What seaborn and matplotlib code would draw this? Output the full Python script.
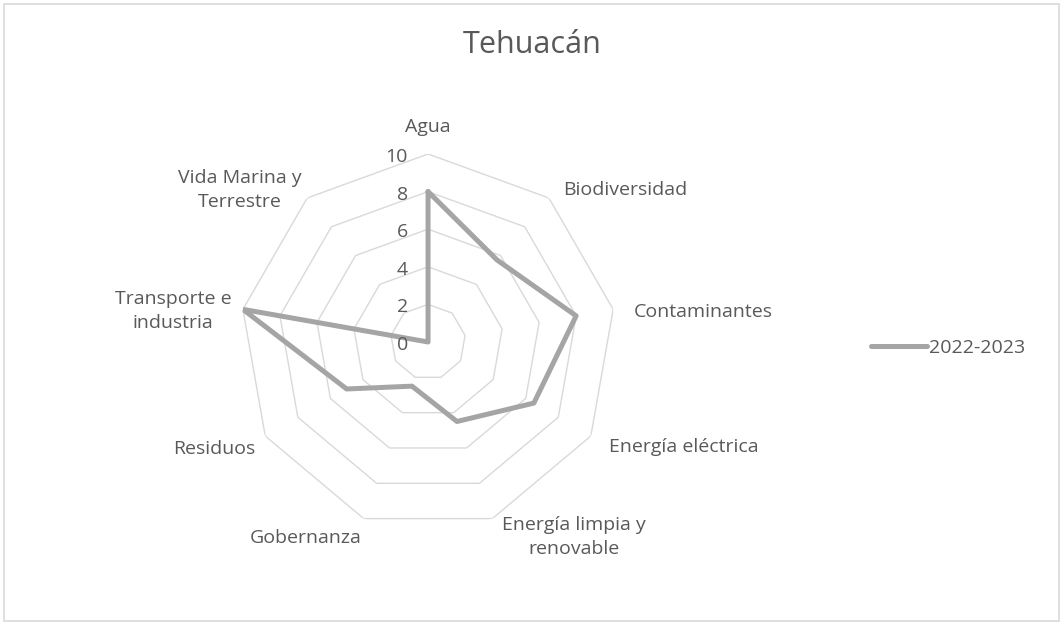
import numpy as np
import pandas as pd
import matplotlib
matplotlib.use("Agg")
import matplotlib.pyplot as plt
import matplotlib.transforms as mtransforms
from matplotlib.patches import Rectangle
from matplotlib.lines import Line2D
import seaborn as sns

# data
categories = [
    "Agua",
    "Biodiversidad",
    "Contaminantes",
    "Energía eléctrica",
    "Energía limpia y\nrenovable",
    "Gobernanza",
    "Residuos",
    "Transporte e\nindustria",
    "Vida Marina y\nTerrestre",
]
values_2022_2023 = [8, 5.7, 8, 6.5, 4.5, 2.5, 5, 10, 0]
ring_levels = [0, 2, 4, 6, 8, 10]
series_name = "2022-2023"
title = "Tehuacán"

# label anchors (angle in degrees clockwise from top, radius, alignment)
label_layout = [
    (0.0, 11.45, "center"),
    (41.6, 10.8, "left"),
    (81.7, 11.05, "left"),
    (120.1, 11.1, "left"),
    (159.3, 11.1, "left"),
    (198.6, 11.0, "right"),
    (238.1, 10.8, "right"),
    (279.0, 10.6, "right"),
    (320.3, 10.5, "right"),
]

TEXT = "#595959"
GRID = "#d9d9d9"
LINE = "#a5a5a5"

sns.set_theme(style="white")
plt.rcParams["font.family"] = ["Open Sans", "DejaVu Sans"]

fig = plt.figure(figsize=(10.64, 6.26), dpi=100)
fig.patch.set_facecolor("white")
fig.patches.append(Rectangle((4 / 1064, 5 / 626), 1055 / 1064, 617 / 626,
                             transform=fig.transFigure, fill=False,
                             edgecolor=GRID, linewidth=1.2))

ax = fig.add_axes([0.2256, 0.1534, 0.3534, 0.6006], projection="polar")
ax.set_theta_zero_location("N")
ax.set_theta_direction(-1)
ax.set_ylim(0, ring_levels[-1])
ax.grid(False)
ax.spines["polar"].set_visible(False)
ax.set_xticks([])
ax.set_yticks([])
ax.set_facecolor("none")

n = len(categories)
angles = np.linspace(0, 2 * np.pi, n, endpoint=False)
closed = np.append(angles, 2 * np.pi)

# polygon rings only, no spokes
for lvl in ring_levels[1:]:
    ax.plot(closed, [lvl] * (n + 1), color=GRID, linewidth=1.0, zorder=1)

df = pd.DataFrame({
    "theta": closed,
    "value": values_2022_2023 + values_2022_2023[:1],
})
sns.lineplot(data=df, x="theta", y="value", sort=False, estimator=None,
             color=LINE, linewidth=3.6, ax=ax, legend=False, zorder=3)
ax.set_xlabel("")
ax.set_ylabel("")

# radial value labels
off = mtransforms.offset_copy(ax.transData, fig=fig, x=-20, y=-3, units="dots")
for lvl in ring_levels:
    ax.text(0, lvl, str(lvl), transform=off, ha="right", va="center",
            fontsize=14, color=TEXT, clip_on=False)

# category labels
for cat, (deg, r, ha) in zip(categories, label_layout):
    ax.text(np.deg2rad(deg), r, cat, ha=ha, va="center", multialignment="center",
            fontsize=14, color=TEXT, clip_on=False, linespacing=1.45)

fig.text(0.5, 1 - 45 / 626, title, ha="center", va="center",
         fontsize=22, color=TEXT)

handle = Line2D([], [], color=LINE, linewidth=3.6)
fig.legend([handle], [series_name], loc="center left",
           bbox_to_anchor=(871 / 1064, 1 - 348 / 626), frameon=False,
           handlelength=2.9, handletextpad=0.1, borderpad=0, borderaxespad=0,
           prop={"size": 14}, labelcolor=TEXT)

fig.savefig("out.png", dpi=100)
plt.close(fig)
